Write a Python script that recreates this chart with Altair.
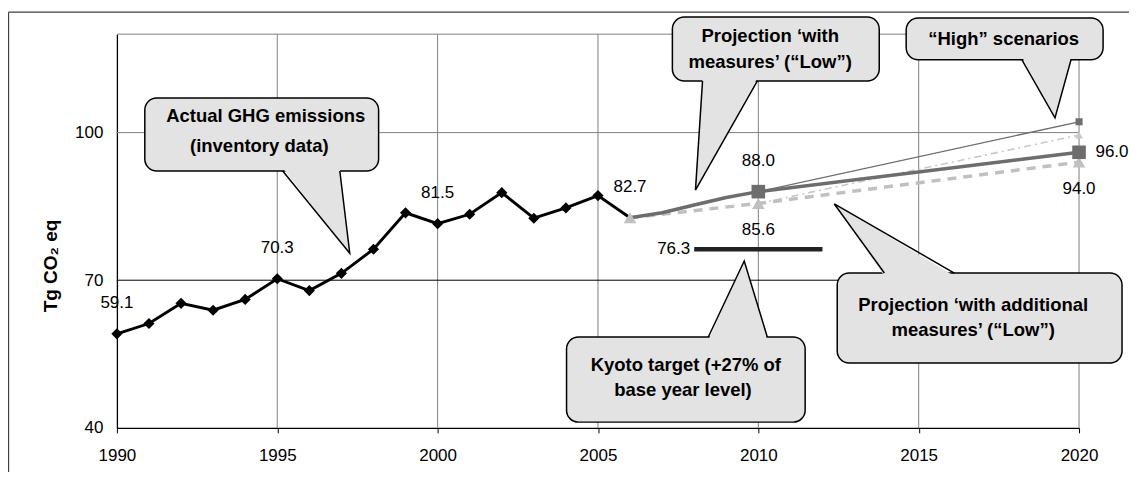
import altair as alt
import pandas as pd

FONT = "Liberation Sans"

# ---------------- data ----------------
actual_years = list(range(1990, 2007))
actual_values = [59.1, 61.2, 65.3, 63.9, 66.1, 70.3, 67.9, 71.4, 76.3, 83.7,
                 81.5, 83.4, 87.8, 82.6, 84.7, 87.2, 82.7]

wm_low_years = [2006, 2007, 2008, 2009, 2010, 2020]
wm_low_values = [82.7, 83.7, 85.3, 86.8, 88.0, 96.0]
wm_low_marker_years = [2010, 2020]

wam_low_years = [2006, 2010, 2020]
wam_low_values = [82.7, 85.6, 94.0]

wm_high_years = [2010, 2020]
wm_high_values = [88.0, 102.2]

wam_high_years = [2010, 2020]
wam_high_values = [85.6, 99.5]

kyoto_years = [2008, 2012]
kyoto_value = 76.3

x_ticks = [1990, 1995, 2000, 2005, 2010, 2015, 2020]
y_ticks = [40, 70, 100]
y_title = "Tg CO\u2082 eq"

labels_above = [(1990, 59.1), (1995, 70.3), (2000, 81.5), (2006, 82.7), (2010, 88.0)]
labels_below = [(2010, 85.6), (2020, 94.0)]
labels_right = [(2020, 96.0)]

# callouts (in data coordinates: year / Tg)
callouts = [
    dict(box=(1990.87, 1998.16, 107.05, 92.2), base=(1995.17, 1996.95), tip=(1997.26, 75.5),
         lines=[("Actual GHG emissions", 1994.64, 103.3), ("(inventory data)", 1994.44, 97.2)]),
    dict(box=(2007.32, 2013.77, 123.5, 110.5), base=(2008.26, 2009.97), tip=(2008.04, 88.3),
         lines=[("Projection \u2018with", 2010.37, 119.6), ("measures\u2019 (\u201cLow\u201d)", 2010.37, 114.4)]),
    dict(box=(2014.61, 2020.75, 123.3, 114.8), base=(2018.22, 2019.75), tip=(2019.25, 103.0),
         lines=[("\u201cHigh\u201d scenarios", 2017.65, 119.05)]),
    dict(box=(2012.46, 2021.34, 71.46, 53.16), base=(2013.93, 2016.11), tip=(2012.37, 85.5),
         lines=[("Projection \u2018with additional", 2016.70, 64.95),
                ("measures\u2019 (\u201cLow\u201d)", 2016.70, 59.87)]),
    dict(box=(2004.02, 2011.46, 58.45, 41.16), base=(2008.44, 2010.28), tip=(2009.56, 73.9),
         lines=[("Kyoto target (+27% of", 2007.74, 52.75), ("base year level)", 2007.65, 47.67)]),
]

# ---------------- helpers ----------------
def tri_profile(a, t, c):
    pts = [a, t, c]
    edges = [(a, t), (t, c), (c, a)]
    rows = []
    for x in sorted(set(p[0] for p in pts)):
        ys = []
        for p, q in edges:
            lo, hi = min(p[0], q[0]), max(p[0], q[0])
            if lo - 1e-9 <= x <= hi + 1e-9:
                if abs(q[0] - p[0]) < 1e-9:
                    ys += [p[1], q[1]]
                else:
                    ys.append(p[1] + (x - p[0]) * (q[1] - p[1]) / (q[0] - p[0]))
        rows.append((x, max(ys), min(ys)))
    return rows

box_rows, area_rows, edge_rows, text_rows = [], [], [], []
for i, c in enumerate(callouts):
    x1, x2, ytop, ybot = c["box"]
    box_rows.append(dict(cid=i, year=x1, year2=x2, value=ytop, value2=ybot))
    tx, ty = c["tip"]
    if ty < ybot:
        by, inner = ybot, ybot + 0.6
    else:
        by, inner = ytop, ytop - 0.6
    ba, bc = c["base"]
    for x, hi, lo in tri_profile((ba, inner), (tx, ty), (bc, inner)):
        area_rows.append(dict(cid=i, year=x, value=hi, value2=lo))
    for o, (x, y) in enumerate([(ba, by), (tx, ty), (bc, by)]):
        edge_rows.append(dict(cid=i, o=o, year=x, value=y))
    for t, x, y in c["lines"]:
        text_rows.append(dict(cid=i, year=x, value=y, text=t))

df_actual = pd.DataFrame({"year": actual_years, "value": actual_values})
df_wm_low = pd.DataFrame({"year": wm_low_years, "value": wm_low_values})
df_wm_low_m = df_wm_low[df_wm_low["year"].isin(wm_low_marker_years)]
df_wam_low = pd.DataFrame({"year": wam_low_years, "value": wam_low_values})
df_wm_high = pd.DataFrame({"year": wm_high_years, "value": wm_high_values})
df_wam_high = pd.DataFrame({"year": wam_high_years, "value": wam_high_values})
df_kyoto = pd.DataFrame({"year": kyoto_years, "value": [kyoto_value] * 2})


def lab_df(items):
    return pd.DataFrame({"year": [a for a, _ in items], "value": [b for _, b in items],
                         "text": [f"{b:.1f}" for _, b in items]})

# ---------------- encodings ----------------
x_enc = alt.X("year:Q", scale=alt.Scale(domain=[1990, 2020], nice=False, zero=False),
              axis=alt.Axis(values=x_ticks, format="d", grid=False, title=None,
                            domainColor="black", domainWidth=1.3, tickColor="black",
                            tickSize=5, tickWidth=1, labelFont=FONT, labelFontSize=17,
                            labelColor="black", labelPadding=15, labelFlush=False))
y_enc = alt.Y("value:Q", scale=alt.Scale(domain=[40, 120], nice=False, zero=False),
              axis=alt.Axis(values=y_ticks, grid=False, title=None,
                            domainColor="black", domainWidth=1.3, ticks=False,
                            labelFont=FONT, labelFontSize=17, labelColor="black",
                            labelPadding=14))
X = alt.X("year:Q")
Y = alt.Y("value:Q")

one = pd.DataFrame({"a": [0]})

grid_v = alt.Chart(pd.DataFrame({"year": x_ticks[1:]})).mark_rule(
    color="#808080", strokeWidth=1).encode(x=x_enc)
grid_dark = alt.Chart(pd.DataFrame({"value": [70]})).mark_rule(
    color="black", strokeWidth=1).encode(y=y_enc)
grid_grey = alt.Chart(pd.DataFrame({"value": [100, 120]})).mark_rule(
    color="#808080", strokeWidth=1).encode(y=Y)

outer_left = alt.Chart(one).mark_rule(color="#404040", strokeWidth=1.3).encode(
    x=alt.value(-108.5), y=alt.value(-22), y2=alt.value(440))
outer_top = alt.Chart(one).mark_rule(color="#404040", strokeWidth=1.3).encode(
    x=alt.value(-108.5), x2=alt.value(1013), y=alt.value(-22))

title_txt = alt.Chart(pd.DataFrame({"text": [y_title]})).mark_text(
    font=FONT, fontSize=19, fontWeight="bold", color="black", angle=270,
    align="center", baseline="middle").encode(
    x=alt.value(-66), y=alt.value(232), text="text:N")

kyoto = alt.Chart(df_kyoto).mark_line(color="#222222", strokeWidth=4.5).encode(x=X, y=Y)
kyoto_lab = alt.Chart(df_kyoto.iloc[[0]].assign(text=f"{kyoto_value:.1f}")).mark_text(
    font=FONT, fontSize=17, align="right", baseline="middle", dx=-4, color="black"
).encode(x=X, y=Y, text="text:N")

wam_high = alt.Chart(df_wam_high).mark_line(color="#c8c8c8", strokeWidth=1.6,
                                            strokeDash=[7, 4, 2, 4]).encode(x=X, y=Y)
wm_high = alt.Chart(df_wm_high).mark_line(color="#6d6d6d", strokeWidth=1.3).encode(x=X, y=Y)
wam_low = alt.Chart(df_wam_low).mark_line(color="#c0c0c0", strokeWidth=3.5,
                                          strokeDash=[9, 7]).encode(x=X, y=Y)
wm_low = alt.Chart(df_wm_low).mark_line(color="#6d6d6d", strokeWidth=3.5).encode(x=X, y=Y)
actual = alt.Chart(df_actual).mark_line(color="black", strokeWidth=2.9).encode(x=X, y=Y)
actual_pts = alt.Chart(df_actual.iloc[:-1]).mark_point(
    shape="diamond", filled=True, color="black", size=125, opacity=1).encode(x=X, y=Y)

wam_high_pt = alt.Chart(df_wam_high.iloc[[-1]]).mark_point(
    shape="triangle-up", filled=True, color="#c8c8c8", size=64, opacity=1).encode(x=X, y=Y)
wm_high_pt = alt.Chart(df_wm_high.iloc[[-1]]).mark_point(
    shape="square", filled=True, color="#6d6d6d", size=50, opacity=1).encode(x=X, y=Y)
wam_low_pts = alt.Chart(df_wam_low).mark_point(
    shape="triangle-up", filled=True, color="#c0c0c0", size=160, opacity=1).encode(x=X, y=Y)
wm_low_pts = alt.Chart(df_wm_low_m).mark_point(
    shape="square", filled=True, color="#6d6d6d", size=185, opacity=1).encode(x=X, y=Y)

lab_style = dict(font=FONT, fontSize=17, color="black", baseline="middle", align="center")
lab_above = alt.Chart(lab_df(labels_above)).mark_text(dy=-31, **lab_style).encode(
    x=X, y=Y, text="text:N")
lab_below = alt.Chart(lab_df(labels_below)).mark_text(dy=27, **lab_style).encode(
    x=X, y=Y, text="text:N")
lab_right = alt.Chart(lab_df(labels_right)).mark_text(dx=33, **lab_style).encode(
    x=X, y=Y, text="text:N")

co_box = alt.Chart(pd.DataFrame(box_rows)).mark_rect(
    fill="#e3e3e3", stroke="black", strokeWidth=1.5, cornerRadius=12).encode(
    x=X, x2="year2:Q", y=Y, y2="value2:Q")
co_area = alt.Chart(pd.DataFrame(area_rows)).mark_area(
    color="#e3e3e3", opacity=1, orient="vertical").encode(
    x=X, y=Y, y2="value2:Q", detail="cid:N")
co_edges = alt.Chart(pd.DataFrame(edge_rows)).mark_line(
    color="black", strokeWidth=1.5).encode(x=X, y=Y, detail="cid:N", order="o:Q")
co_text = alt.Chart(pd.DataFrame(text_rows)).mark_text(
    font=FONT, fontSize=18.5, fontWeight="bold", color="black", baseline="middle",
    align="center").encode(x=X, y=Y, text="text:N")

chart = alt.layer(
    grid_v, grid_dark, grid_grey, outer_left, outer_top, title_txt,
    kyoto, kyoto_lab, wam_high, wm_high, wam_low, wm_low, actual, actual_pts,
    wam_high_pt, wm_high_pt, wam_low_pts, wm_low_pts,
    lab_above, lab_below, lab_right,
    co_box, co_area, co_edges, co_text,
).properties(
    width=963, height=394,
    padding={"left": 109, "top": 26, "right": 50, "bottom": 44},
    autosize=alt.AutoSizeParams(type="none"),
    background="white",
).configure_view(strokeWidth=0)

chart.save("out.html", embed_options={"renderer": "svg", "actions": False})
